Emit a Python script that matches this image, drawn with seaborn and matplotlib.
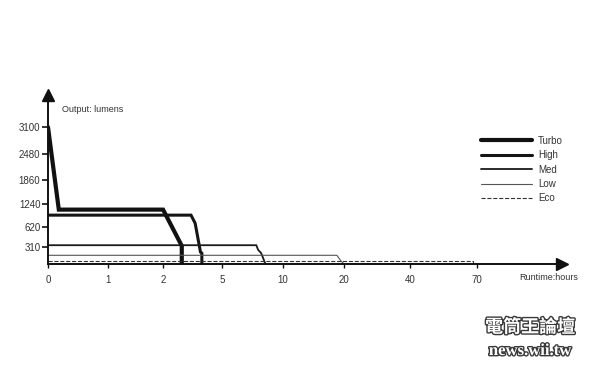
import numpy as np
import pandas as pd
import matplotlib
matplotlib.use("Agg")
import matplotlib.pyplot as plt
import matplotlib.patheffects as pe
import seaborn as sns

# ---- data ----
modes = ["Turbo", "High", "Med", "Low", "Eco"]
turbo_hours = [0, 0.18, 2.0, 2.95, 2.95]
turbo_lumens = [3100, 1100, 1100, 330, 0]
high_hours = [0, 3.42, 3.63, 3.9, 3.97, 3.97]
high_lumens = [950, 950, 730, 220, 200, 0]
med_hours = [0, 7.8, 7.95, 8.2, 8.55]
med_lumens = [340, 340, 260, 200, 0]
low_hours = [0, 18.8, 19.5, 20.0]
low_lumens = [160, 160, 50, 0]
eco_hours = [0, 68, 68]
eco_lumens = [50, 50, 0]

x_ticks = [0, 1, 2, 5, 10, 20, 40, 70]
y_ticks = [310, 620, 1240, 1860, 2480, 3100]

# axis scale breakpoints (the chart uses non-linear, hand-spaced axes)
x_break_vals = [0, 1, 2, 5, 10, 20, 40, 70, 160]
x_break_pos = [0, 60, 115, 174, 235, 296, 362, 429, 630]
y_break_vals = [0, 310, 620, 1240, 1860, 2480, 3100, 4000]
y_break_pos = [0, 17, 37, 60, 85, 111, 138, 177]

series = {
    "Turbo": (turbo_hours, turbo_lumens),
    "High": (high_hours, high_lumens),
    "Med": (med_hours, med_lumens),
    "Low": (low_hours, low_lumens),
    "Eco": (eco_hours, eco_lumens),
}
rows = []
for m in modes:
    h, l = series[m]
    for a, b in zip(h, l):
        rows.append({"mode": m, "hours": a, "lumens": b})
df = pd.DataFrame(rows)

sns.set_style("white")
plt.rcParams["font.family"] = ["Liberation Sans", "DejaVu Sans"]

fig = plt.figure(figsize=(6, 3.75), dpi=100)
ax = fig.add_axes([0.08, 0.296, 0.857, 0.452])

ax.set_xscale("function", functions=(
    lambda v: np.interp(v, x_break_vals, x_break_pos),
    lambda p: np.interp(p, x_break_pos, x_break_vals)))
ax.set_yscale("function", functions=(
    lambda v: np.interp(v, y_break_vals, y_break_pos),
    lambda p: np.interp(p, y_break_pos, y_break_vals)))

palette = {"Turbo": "#111111", "High": "#151515", "Med": "#1a1a1a",
           "Low": "#555555", "Eco": "#333333"}
sizes = {"Turbo": 3.0, "High": 2.2, "Med": 1.3, "Low": 0.8, "Eco": 0.8}

for m in modes:
    sub = df[df["mode"] == m]
    sns.lineplot(data=sub, x="hours", y="lumens", sort=False, estimator=None,
                 color=palette[m], linewidth=sizes[m], ax=ax, label=m,
                 solid_joinstyle="miter",
                 linestyle="--" if m == "Eco" else "-")

ax.set_xlim(0, 108)
ax.set_ylim(0, 3858)
ax.set_xticks(x_ticks)
ax.set_xticklabels([str(t) for t in x_ticks])
ax.set_yticks(y_ticks)
ax.set_yticklabels([str(t) for t in y_ticks])
ax.minorticks_off()
ax.set_xlabel("")
ax.set_ylabel("")

for s in ["top", "right"]:
    ax.spines[s].set_visible(False)
for s in ["left", "bottom"]:
    ax.spines[s].set_color("#111111")
    ax.spines[s].set_linewidth(1.4)

ax.tick_params(axis="y", direction="out", length=4, width=1.2, color="#111111",
               labelsize=7, labelcolor="#333333", pad=1.5, left=True)
ax.tick_params(axis="x", direction="out", length=3, width=1.0, color="#111111",
               labelsize=7, labelcolor="#333333", pad=5, bottom=True)

# arrow heads
ax.plot(0, 1.0, marker="^", color="#111111", markersize=9,
        transform=ax.transAxes, clip_on=False)
ax.plot(1.0, 0, marker=">", color="#111111", markersize=9,
        transform=ax.transAxes, clip_on=False)

fig.text(62 / 600, 1 - 110 / 375, "Output: lumens", fontsize=6.5,
         color="#333333", va="center", ha="left")
fig.text(519 / 600, 1 - 277 / 375, "Runtime:hours", fontsize=6.5,
         color="#333333", va="center", ha="left")

leg = ax.legend(loc="upper left", bbox_to_anchor=(476 / 600, 1 - 131 / 375),
                bbox_transform=fig.transFigure, frameon=False, fontsize=7,
                handlelength=5.3, labelspacing=0.45, handletextpad=0.6,
                borderpad=0)
for t in leg.get_texts():
    t.set_color("#333333")

# watermark
fx = [pe.withStroke(linewidth=2.0, foreground="#3a3a3a")]
fig.text(530 / 600, 1 - 327 / 375, "電筒王論壇", fontsize=13,
         family=["Noto Sans CJK TC", "DejaVu Sans"], color="white",
         ha="center", va="center", path_effects=fx, weight="bold")
fig.text(530 / 600, 1 - 351 / 375, "news.wii.tw", fontsize=12,
         family=["Liberation Serif", "DejaVu Serif"], color="white",
         ha="center", va="center", path_effects=fx, weight="bold")

fig.savefig("out.png", dpi=100, facecolor="white")
